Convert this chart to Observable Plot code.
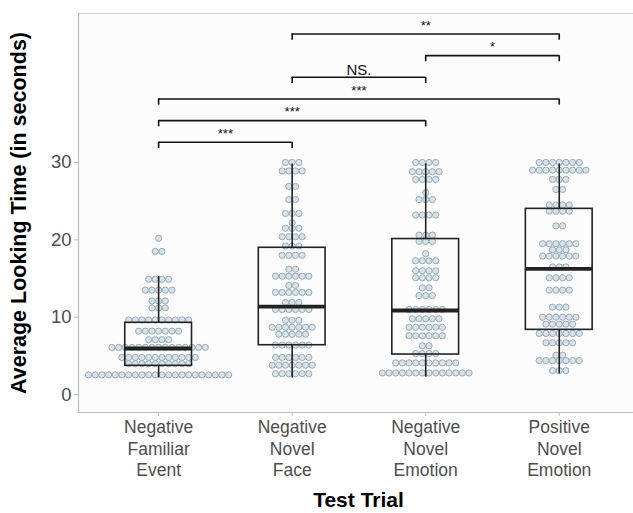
<!DOCTYPE html>
<html><head><meta charset="utf-8">
<script src="https://cdn.jsdelivr.net/npm/d3@7"></script>
<script src="https://cdn.jsdelivr.net/npm/@observablehq/plot@0.6"></script>
<style>body{margin:0;background:#fff;}</style>
</head><body><div id="chart"></div>
<script>
// Categories (x-axis tick labels)
const categories = ["Negative\nFamiliar\nEvent", "Negative\nNovel\nFace", "Negative\nNovel\nEmotion", "Positive\nNovel\nEmotion"];

// Dot-plot rows per category: [looking time (s), number of infants in that bin]
const dotsFamiliarEvent = [[20.2,1],[18.5,2],[14.9,4],[13.5,5],[12.1,3],[11.2,3],[9.65,10],[8.2,7],[7.1,4],[6.1,15],[4.8,12],[4.0,10],[2.55,22]];
const dotsNovelFace = [[30.0,3],[28.9,4],[26.9,2],[25.2,2],[23.4,3],[22.2,1],[21.5,3],[20.4,4],[19.2,3],[18.0,4],[16.2,2],[15.3,6],[14.1,2],[13.2,6],[11.9,3],[11.0,6],[9.6,3],[8.7,7],[7.8,5],[6.4,6],[4.8,6],[3.8,7],[2.7,6]];
const dotsNegNovelEmotion = [[30.0,4],[28.8,5],[27.8,4],[26.1,1],[25.2,3],[23.2,4],[20.6,3],[19.8,3],[18.2,1],[17.3,4],[16.0,4],[15.1,4],[13.8,2],[12.8,3],[11.0,6],[9.8,5],[8.7,6],[7.6,6],[6.3,2],[5.3,4],[4.1,10],[2.8,14]];
const dotsPosNovelEmotion = [[30.0,7],[29.0,9],[27.8,3],[26.5,2],[24.5,4],[23.7,4],[21.8,2],[19.5,6],[18.7,3],[17.9,6],[16.5,3],[15.1,4],[13.5,4],[11.3,3],[10.0,6],[9.1,5],[7.9,7],[6.7,5],[5.1,2],[4.4,7],[3.1,3]];
const dotRows = [dotsFamiliarEvent, dotsNovelFace, dotsNegNovelEmotion, dotsPosNovelEmotion];

// Box-plot statistics per category
const q1 = [3.72, 6.38, 5.18, 8.37];
const medians = [5.96, 11.38, 10.87, 16.25];
const q3 = [9.28, 18.97, 20.1, 24.0];
const whiskerLow = [2.15, 2.15, 2.25, 2.7];
const whiskerHigh = [15.26, 29.8, 29.8, 29.8];

// Pairwise comparisons (category indices), bracket height and label
const compFrom = [0, 0, 0, 1, 2, 1];
const compTo = [1, 2, 3, 2, 3, 3];
const compY = [32.6, 35.4, 38.2, 41.0, 43.8, 46.6];
const compLabel = ["***", "***", "***", "NS.", "*", "**"];

const yTicks = [0, 10, 20, 30];

// ---- build tables ----
const dotStep = 0.04995; // one dot diameter in category units
const dots = [];
dotRows.forEach((rows, i) => rows.forEach(([v, n]) => {
  for (let k = 0; k < n; k++) dots.push({x: i + (k - (n - 1) / 2) * dotStep, y: v});
}));
const idx = categories.map((_, i) => i);
const comps = compFrom.map((f, i) => ({from: f, to: compTo[i], y: compY[i], label: compLabel[i]}));
const compTicks = comps.flatMap(c => [{x: c.from, y: c.y}, {x: c.to, y: c.y}]);

const xDom = [-0.6, 3.556];
const yDom = [-2.31, 49.24];
const hw = 0.25;
const tickLen = 0.8;

const chart = Plot.plot({
  width: 633, height: 513,
  marginLeft: 78, marginRight: 0, marginTop: 13, marginBottom: 101,
  style: {fontFamily: "'Liberation Sans', Arial, sans-serif", background: "#fff"},
  x: {type: "linear", domain: xDom},
  y: {domain: yDom},
  marks: [
    Plot.rect([0], {x1: xDom[0], x2: xDom[1], y1: yDom[0], y2: yDom[1], fill: "#fcfcfd"}),
    Plot.ruleY([yDom[1]], {stroke: "#e6c8c0", strokeWidth: 1}),
    Plot.ruleX([xDom[0]], {y1: yDom[0], y2: yDom[1], stroke: "#b3bfc6", strokeWidth: 1.2}),
    Plot.ruleY([yDom[0]], {stroke: "#b3bfc6", strokeWidth: 1.2}),
    Plot.axisY({ticks: yTicks, tickSize: 4, tickPadding: 3, fontSize: 18.5, color: "#4d4d4d", stroke: "#b3bfc6", label: null}),
    Plot.axisX({ticks: idx, tickFormat: i => categories[i], tickSize: 4, tickPadding: 1, fontSize: 17.5, lineHeight: 1.24, color: "#4d4d4d", stroke: "#b3bfc6", label: null}),
    Plot.dot(dots, {x: "x", y: "y", r: 3.1, fill: "#d8e3e9", stroke: "#8fa4af", strokeWidth: 0.9}),
    Plot.ruleX(idx, {x: i => i, y1: i => q3[i], y2: i => whiskerHigh[i], stroke: "#222", strokeWidth: 1.6}),
    Plot.ruleX(idx, {x: i => i, y1: i => whiskerLow[i], y2: i => q1[i], stroke: "#222", strokeWidth: 1.6}),
    Plot.rect(idx, {x1: i => i - hw, x2: i => i + hw, y1: i => q1[i], y2: i => q3[i], fill: "none", stroke: "#222", strokeWidth: 1.6}),
    Plot.ruleY(idx, {x1: i => i - hw, x2: i => i + hw, y: i => medians[i], stroke: "#222", strokeWidth: 3.8}),
    Plot.ruleY(comps, {x1: "from", x2: "to", y: "y", stroke: "#111", strokeWidth: 1.6}),
    Plot.ruleX(compTicks, {x: "x", y1: "y", y2: d => d.y - tickLen, stroke: "#111", strokeWidth: 1.6}),
    Plot.text(comps.filter(c => c.label !== "NS."), {x: c => (c.from + c.to) / 2, y: c => c.y + 0.55, text: "label", lineAnchor: "bottom", fontSize: 13, fill: "#111"}),
    Plot.text(comps.filter(c => c.label === "NS."), {x: c => (c.from + c.to) / 2, y: c => c.y + 0.35, text: "label", lineAnchor: "bottom", fontSize: 15, fill: "#111"}),
    Plot.text(["Average Looking Time (in seconds)"], {text: d => d, frameAnchor: "left", textAnchor: "middle", lineAnchor: "middle", dx: -59, rotate: -90, fontSize: 21.5, fontWeight: "bold", fill: "#000"}),
    Plot.text(["Test Trial"], {text: d => d, frameAnchor: "bottom", textAnchor: "middle", lineAnchor: "middle", dx: 2.5, dy: 88, fontSize: 21, fontWeight: "bold", fill: "#000"})
  ]
});
document.getElementById("chart").appendChild(chart);
</script>
</body></html>
